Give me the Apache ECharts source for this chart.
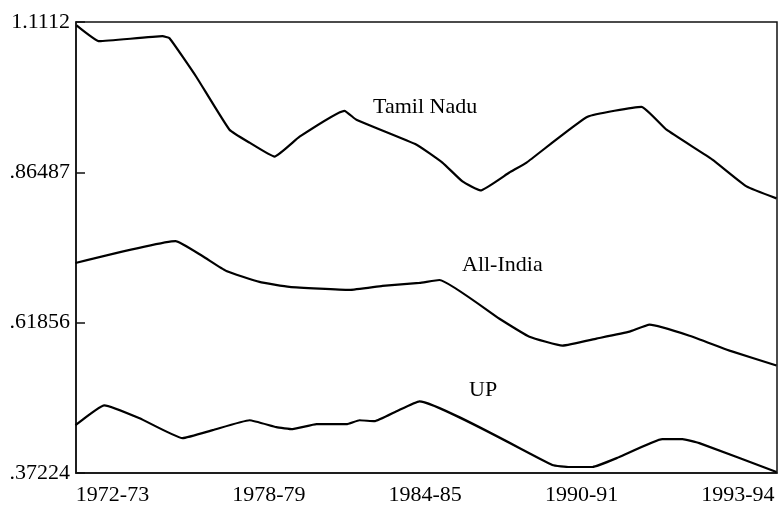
<!DOCTYPE html>
<html>
<head>
<meta charset="utf-8">
<script src="https://cdn.jsdelivr.net/npm/echarts@6/dist/echarts.min.js"></script>
<style>
  html, body { margin: 0; padding: 0; background: #fff; }
  #show { width: 778px; height: 506px; }
</style>
</head>
<body>
<div id="show"></div>
<script>
var myChart = echarts.init(document.getElementById("show"));

// x positions in years (label "1993-94" sits on the 6-year step after 1990-91)
var xTickValues = [1972, 1978, 1984, 1990, 1996];
var xTickLabels = ['1972-73', '1978-79', '1984-85', '1990-91', '1993-94'];

var yTickValues = [0.37224, 0.61856, 0.86487, 1.1112];
var yTickLabels = ['.37224', '.61856', '.86487', '1.1112'];

var tamilNaduX = [1970.62, 1971.50, 1973.92, 1974.19, 1975.22, 1976.49, 1977.26, 1978.22, 1979.18,
    1980.90, 1981.36, 1983.67, 1984.66, 1985.43, 1986.12, 1987.23, 1987.89, 1990.23, 1992.30,
    1993.26, 1995.02, 1996.33, 1997.48];
var tamilNaduY = [1.1058, 1.0797, 1.0879, 1.0846, 1.0211, 0.9347, 0.9135, 0.8907, 0.9233,
    0.9656, 0.9510, 0.9102, 0.8809, 0.8499, 0.8352, 0.8646, 0.8809, 0.9559, 0.9722,
    0.9347, 0.8858, 0.8418, 0.8222];

var allIndiaX = [1970.58, 1974.42, 1975.45, 1976.37, 1977.64, 1978.79, 1981.09, 1982.36, 1983.78,
    1984.55, 1986.85, 1988.00, 1989.27, 1990.57, 1991.84, 1992.61, 1994.14, 1995.68, 1997.48];
var allIndiaY = [0.7163, 0.7521, 0.7277, 0.7032, 0.6853, 0.6772, 0.6722, 0.6788, 0.6837,
    0.6885, 0.6250, 0.5956, 0.5810, 0.5924, 0.6038, 0.6152, 0.5972, 0.5728, 0.5484];

var upX = [1970.58, 1971.69, 1973.04, 1974.69, 1975.84, 1977.26, 1978.29, 1978.91, 1979.83,
    1980.98, 1981.48, 1982.05, 1982.90, 1983.78, 1988.88, 1989.54, 1990.42, 1991.45, 1993.10,
    1993.87, 1994.52, 1997.48];
var upY = [0.4506, 0.4832, 0.4620, 0.4294, 0.4424, 0.4587, 0.4473, 0.4441, 0.4522,
    0.4522, 0.4587, 0.4571, 0.4734, 0.4897, 0.3854, 0.3821, 0.3821, 0.3984, 0.4277,
    0.4277, 0.4212, 0.3740];

function pairs(xs, ys) {
    return xs.map(function (x, i) { return [x, ys[i]]; });
}

var serif = "'Liberation Serif', 'DejaVu Serif', serif";

function lineSeries(name, xs, ys) {
    return {
        name: name,
        type: 'line',
        data: pairs(xs, ys),
        showSymbol: false,
        smooth: 0.12,
        lineStyle: { color: '#000', width: 2.2 },
        silent: true
    };
}

myChart.setOption(option = {
    animation: false,
    grid: {
        left: 76, right: 1, top: 22, bottom: 31,
        show: true, borderColor: '#111', borderWidth: 1.5
    },
    xAxis: {
        type: 'value',
        min: 1970.6,
        max: 1997.5,
        axisLine: { show: true, lineStyle: { color: '#111', width: 1.5 } },
        axisTick: { show: false },
        splitLine: { show: false },
        axisLabel: {
            customValues: xTickValues,
            formatter: function (v) { return xTickLabels[xTickValues.indexOf(v)]; },
            color: '#000',
            fontFamily: serif,
            fontSize: 22,
            margin: 11
        }
    },
    yAxis: {
        type: 'value',
        min: 0.37224,
        max: 1.1112,
        axisLine: { show: true, lineStyle: { color: '#111', width: 1.5 } },
        axisTick: {
            show: true, inside: true, length: 9,
            customValues: yTickValues,
            lineStyle: { color: '#111', width: 1.5 }
        },
        splitLine: { show: false },
        axisLabel: {
            customValues: yTickValues,
            formatter: function (v) { return yTickLabels[yTickValues.indexOf(v)]; },
            color: '#000',
            fontFamily: serif,
            fontSize: 22,
            margin: 6
        }
    },
    graphic: [
        { type: 'text', left: 373, top: 96, style: { text: 'Tamil Nadu', font: '22px ' + serif, fill: '#000' } },
        { type: 'text', left: 462, top: 254, style: { text: 'All-India', font: '22px ' + serif, fill: '#000' } },
        { type: 'text', left: 469, top: 379, style: { text: 'UP', font: '22px ' + serif, fill: '#000' } }
    ],
    series: [
        lineSeries('Tamil Nadu', tamilNaduX, tamilNaduY),
        lineSeries('All-India', allIndiaX, allIndiaY),
        lineSeries('UP', upX, upY)
    ]
});
</script>
</body>
</html>
